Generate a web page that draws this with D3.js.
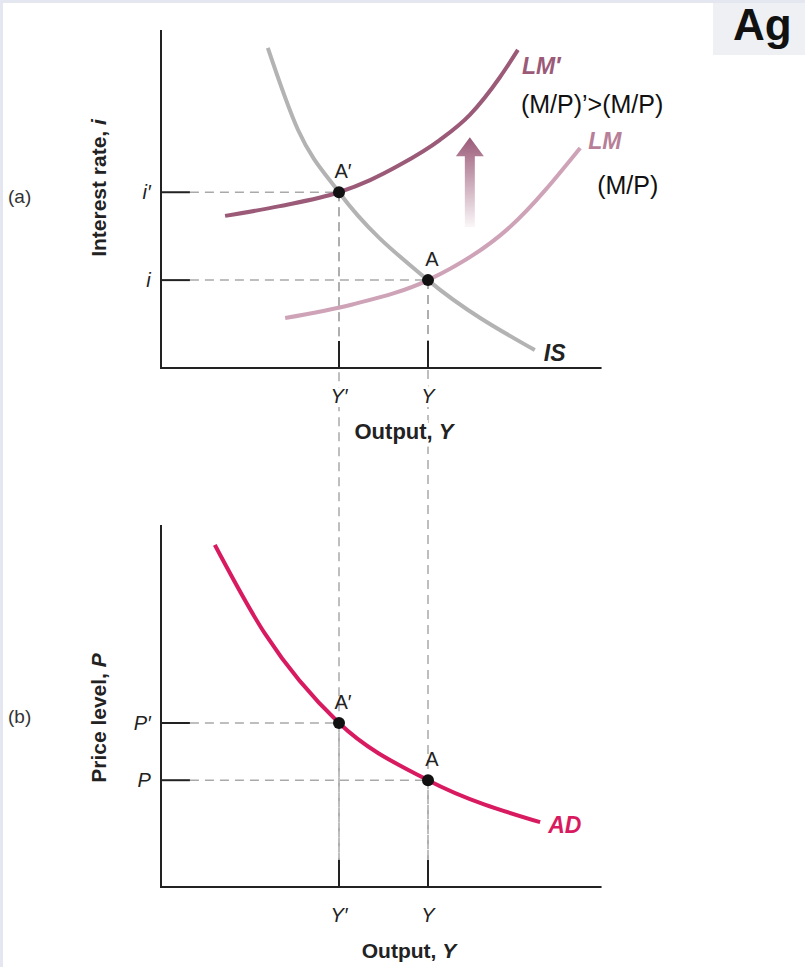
<!DOCTYPE html>
<html>
<head>
<meta charset="utf-8">
<script src="https://cdn.jsdelivr.net/npm/d3@7"></script>
<style>
  body { margin: 0; background: #fff; }
  svg text { font-family: "Liberation Sans", Arial, sans-serif; }
</style>
</head>
<body>
<div id="chart"></div>
<script>
// output levels (x), shared by both panels
const outputTicks = [{ label: 'Y\u2032', value: 40 }, { label: 'Y', value: 60 }];
// interest rates at the two equilibria
const rateTicks = [{ label: 'i\u2032', value: 52 }, { label: 'i', value: 26 }];
// price levels at the two equilibria
const priceTicks = [{ label: 'P\u2032', value: 45.3 }, { label: 'P', value: 29.5 }];

// curves in panel (a): [output, interest rate]
const isCurve = [[24, 94.7], [30.8, 70.4], [40, 52], [60, 26], [84, 5.3]];
const lmPrimeCurve = [[14.4, 45], [26.7, 47.9], [40, 52], [47, 55.6], [53.7, 60.1], [62.7, 67.5], [69.4, 74.9], [76.2, 86.1], [80.2, 94.1]];
const lmCurve = [[27.9, 14.8], [43, 18.8], [60, 26], [78.4, 41.7], [94.2, 65.1]];
// curve in panel (b): [output, price level]
const adCurve = [[12.1, 94.5], [23.4, 69.9], [40, 45.3], [60, 29.5], [85.2, 17.9]];

// equilibrium points
const pointsA = [{ label: 'A\u2032', x: 40, y: 52 }, { label: 'A', x: 60, y: 26 }];
const pointsB = [{ label: 'A\u2032', x: 40, y: 45.3 }, { label: 'A', x: 60, y: 29.5 }];

// shift arrow [output, rate] bottom -> top
const shiftArrow = [[69.4, 41.7], [69.4, 68.3]];

const width = 805;
const height = 967;

const svg = d3.select('#chart').
append('svg').
attr('width', width).
attr('height', height);

// page border strips and corner box
svg.append('rect').attr('x', 0).attr('y', 0).attr('width', width).attr('height', 3).attr('fill', '#e4e6f0');
svg.append('rect').attr('x', 0).attr('y', 0).attr('width', 3).attr('height', height).attr('fill', '#e4e6f0');
svg.append('rect').attr('x', 713).attr('y', 3).attr('width', 92).attr('height', 52).attr('fill', '#eef0f4');
svg.append('text').attr('x', 733).attr('y', 40).
style('font-size', '44px').style('font-weight', 'bold').attr('fill', '#111').text('Ag');

const xScale = d3.scaleLinear().domain([0, 100]).range([161, 606]);
const yA = d3.scaleLinear().domain([0, 100]).range([368, 30]);
const yB = d3.scaleLinear().domain([0, 100]).range([887, 525]);

const defs = svg.append('defs');
const grad = defs.append('linearGradient').attr('id', 'arrowGrad').
attr('x1', 0).attr('y1', 1).attr('x2', 0).attr('y2', 0);
grad.append('stop').attr('offset', '0%').attr('stop-color', '#9b5a78').attr('stop-opacity', 0.05);
grad.append('stop').attr('offset', '100%').attr('stop-color', '#9b5a78').attr('stop-opacity', 1);

const dashColor = '#a9a9a9';
const tickTopA = yA(8);
const tickTopB = yB(7.5);

// long dashed connectors between the panels
svg.append('g').
selectAll('line').
data(pointsA).
enter().
append('line').
attr('x1', d => xScale(d.x)).
attr('x2', d => xScale(d.x)).
attr('y1', d => yA(d.y)).
attr('y2', tickTopB).
attr('stroke', dashColor).
attr('stroke-width', 1.5).
attr('stroke-dasharray', '9,6');

function drawPanel(yScale, ticks, points, tickTop, axisTop, opts) {
  const g = svg.append('g');

  // horizontal dashed guides
  g.selectAll('.hguide').
  data(points).
  enter().
  append('line').
  attr('x1', xScale(6.5)).
  attr('x2', d => xScale(d.x)).
  attr('y1', d => yScale(d.y)).
  attr('y2', d => yScale(d.y)).
  attr('stroke', dashColor).
  attr('stroke-width', 1.5).
  attr('stroke-dasharray', '9,6');

  // axes
  g.append('line').attr('x1', xScale(0)).attr('x2', xScale(0)).
  attr('y1', axisTop).attr('y2', yScale(0)).attr('stroke', '#222').attr('stroke-width', 2);
  g.append('line').attr('x1', xScale(0) - 1).attr('x2', xScale(99)).
  attr('y1', yScale(0)).attr('y2', yScale(0)).attr('stroke', '#222').attr('stroke-width', 2);

  // y ticks
  g.selectAll('.ytick').
  data(ticks).
  enter().
  append('line').
  attr('x1', xScale(0)).
  attr('x2', xScale(6.5)).
  attr('y1', d => yScale(d.value)).
  attr('y2', d => yScale(d.value)).
  attr('stroke', '#222').
  attr('stroke-width', 2);

  g.selectAll('.ylab').
  data(ticks).
  enter().
  append('text').
  attr('x', xScale(-2.3)).
  attr('y', d => yScale(d.value) + 7).
  attr('text-anchor', 'end').
  style('font-size', '20px').
  style('font-style', 'italic').
  attr('fill', '#222').
  text(d => d.label);

  // x ticks
  g.selectAll('.xtick').
  data(outputTicks).
  enter().
  append('line').
  attr('x1', d => xScale(d.value)).
  attr('x2', d => xScale(d.value)).
  attr('y1', tickTop).
  attr('y2', yScale(0)).
  attr('stroke', '#222').
  attr('stroke-width', 2);

  // vertical dashed from point to x tick
  g.selectAll('.vguide').
  data(points).
  enter().
  append('line').
  attr('x1', d => xScale(d.x)).
  attr('x2', d => xScale(d.x)).
  attr('y1', d => yScale(d.y)).
  attr('y2', tickTop).
  attr('stroke', dashColor).
  attr('stroke-width', 1.5).
  attr('stroke-dasharray', '9,6');

  g.selectAll('.xlab').
  data(outputTicks).
  enter().
  append('text').
  attr('x', d => xScale(d.value)).
  attr('y', yScale(0) + 35).
  attr('text-anchor', 'middle').
  style('font-size', '20px').
  style('font-style', 'italic').
  attr('fill', '#222').
  attr('stroke', '#fff').
  attr('stroke-width', 8).
  attr('paint-order', 'stroke').
  text(d => d.label);

  const title = g.append('text').
  attr('x', opts.xTitleX).
  attr('y', yScale(0) + opts.xTitleDy).
  attr('text-anchor', 'middle').
  style('font-size', opts.xTitleSize + 'px').
  style('font-weight', 'bold').
  attr('fill', '#222').
  attr('stroke', '#fff').
  attr('stroke-width', 8).
  attr('paint-order', 'stroke');
  title.append('tspan').text('Output, ');
  title.append('tspan').style('font-style', 'italic').text('Y');

  const ytitle = g.append('text').
  attr('transform', 'translate(106,' + opts.yTitleY + ') rotate(-90)').
  attr('text-anchor', 'middle').
  style('font-size', '21px').
  style('font-weight', 'bold').
  attr('fill', '#222');
  ytitle.append('tspan').text(opts.yTitle);
  ytitle.append('tspan').style('font-style', 'italic').text(opts.yVar);

  g.append('text').
  attr('x', 8).
  attr('y', opts.panelY).
  style('font-size', '19px').
  attr('fill', '#333').
  text(opts.panelLabel);

  return g;
}

drawPanel(yA, rateTicks, pointsA, tickTopA, 30, {
  xTitleX: 404, xTitleDy: 71, xTitleSize: 22, yTitle: 'Interest rate, ', yVar: 'i', yTitleY: 188,
  panelLabel: '(a)', panelY: 203 });

drawPanel(yB, priceTicks, pointsB, tickTopB, 525, {
  xTitleX: 409, xTitleDy: 71, xTitleSize: 21, yTitle: 'Price level, ', yVar: 'P', yTitleY: 718,
  panelLabel: '(b)', panelY: 723 });

// curves
const lineA = d3.line().x(d => xScale(d[0])).y(d => yA(d[1])).curve(d3.curveMonotoneX);
const lineB = d3.line().x(d => xScale(d[0])).y(d => yB(d[1])).curve(d3.curveMonotoneX);

const curvesA = [
{ data: isCurve, color: '#b3b3b3' },
{ data: lmCurve, color: '#cfa3b7' },
{ data: lmPrimeCurve, color: '#9b5a78' }];

svg.append('g').
selectAll('path').
data(curvesA).
enter().
append('path').
attr('d', d => lineA(d.data)).
attr('fill', 'none').
attr('stroke', d => d.color).
attr('stroke-width', 4);

svg.append('path').
attr('d', lineB(adCurve)).
attr('fill', 'none').
attr('stroke', '#d81b60').
attr('stroke-width', 4);

// shift arrow
const ax = xScale(shiftArrow[0][0]);
const ay0 = yA(shiftArrow[0][1]);
const ay1 = yA(shiftArrow[1][1]);
svg.append('path').
attr('d', 'M' + (ax - 5) + ',' + ay0 + 'V' + (ay1 + 19) + 'H' + (ax - 14) + 'L' + ax + ',' + ay1 +
'L' + (ax + 14) + ',' + (ay1 + 19) + 'H' + (ax + 5) + 'V' + ay0 + 'Z').
attr('fill', 'url(#arrowGrad)');

// points and labels
function drawPoints(points, yScale) {
  const g = svg.append('g');
  g.selectAll('circle').
  data(points).
  enter().
  append('circle').
  attr('cx', d => xScale(d.x)).
  attr('cy', d => yScale(d.y)).
  attr('r', 6).
  attr('fill', '#111');
  g.selectAll('text').
  data(points).
  enter().
  append('text').
  attr('x', d => xScale(d.x) + 4).
  attr('y', d => yScale(d.y) - 14).
  attr('text-anchor', 'middle').
  style('font-size', '20px').
  attr('fill', '#222').
  text(d => d.label);
}
drawPoints(pointsA, yA);
drawPoints(pointsB, yB);

// curve labels
function curveLabel(x, y, txt, color, italicBold, size) {
  svg.append('text').
  attr('x', x).
  attr('y', y).
  style('font-size', size + 'px').
  style('font-weight', italicBold ? 'bold' : 'normal').
  style('font-style', italicBold ? 'italic' : 'normal').
  attr('fill', color).
  text(txt);
}
const isEnd = isCurve[isCurve.length - 1];
const lmEnd = lmCurve[lmCurve.length - 1];
const lmpEnd = lmPrimeCurve[lmPrimeCurve.length - 1];
const adEnd = adCurve[adCurve.length - 1];

curveLabel(xScale(isEnd[0]) + 9, yA(isEnd[1]) + 11, 'IS', '#222', true, 23);
curveLabel(xScale(lmpEnd[0]) + 4, yA(lmpEnd[1]) + 24, 'LM\u2032', '#9b5a78', true, 23);
curveLabel(xScale(lmpEnd[0]) + 3, yA(lmpEnd[1]) + 63, '(M/P)\u2019>(M/P)', '#111', false, 25);
curveLabel(xScale(lmEnd[0]) + 8, yA(lmEnd[1]) + 1, 'LM', '#b77f98', true, 23);
curveLabel(xScale(lmEnd[0]) + 17, yA(lmEnd[1]) + 46, '(M/P)', '#111', false, 25);
curveLabel(xScale(adEnd[0]) + 8, yB(adEnd[1]) + 11, 'AD', '#d81b60', true, 23);
</script>
</body>
</html>
